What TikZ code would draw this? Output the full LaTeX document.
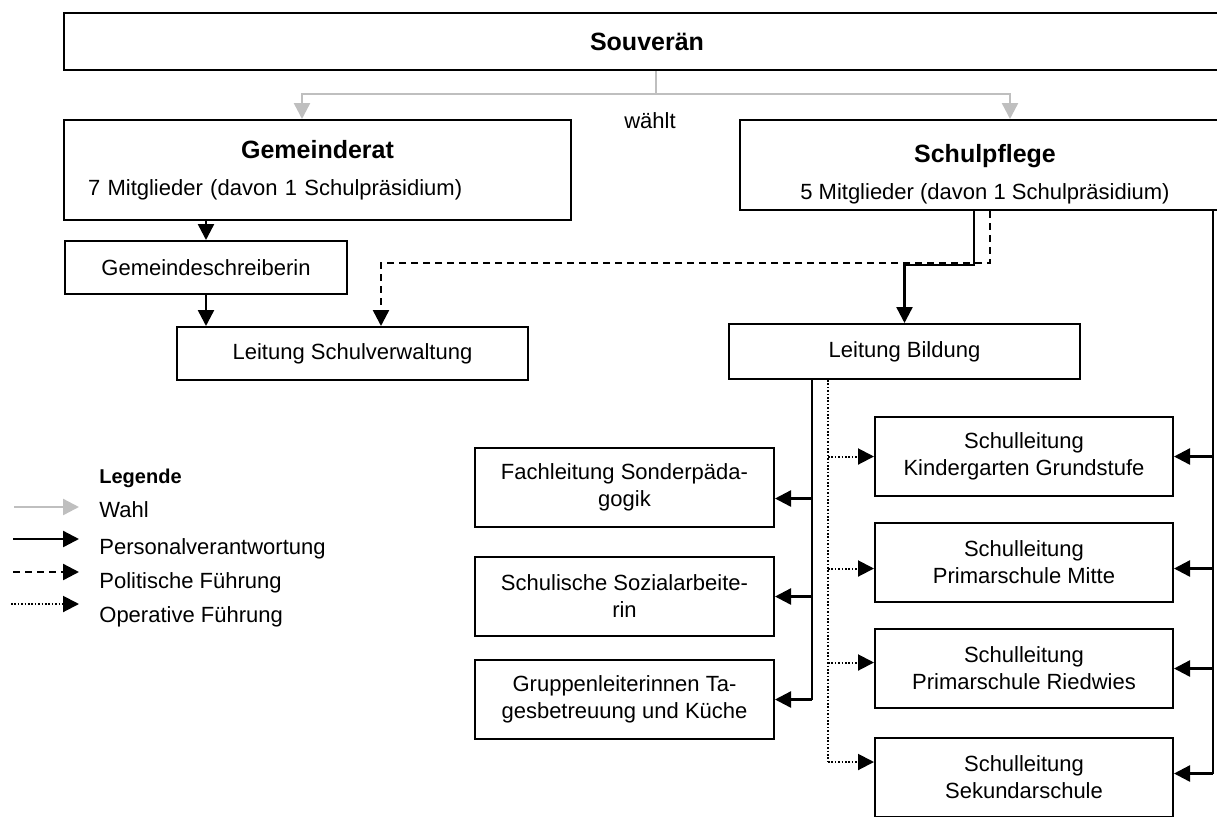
\documentclass[tikz,border=0pt]{standalone}
\usepackage{fontspec}
\setmainfont{Liberation Sans}
\usepackage{tikz}
\usetikzlibrary{positioning, arrows.meta, calc}
\definecolor{wahlgrey}{HTML}{BFBFBF}
\newcommand{\orgtitle}{\fontsize{12.5}{15}\selectfont\bfseries}
\newcommand{\orgtext}{\fontsize{11}{13.5}\selectfont}

\begin{document}
\begin{tikzpicture}[
    x=0.5pt, y=-0.5pt,
    box/.style={draw, line width=1pt, anchor=north west, minimum width=#1, align=center, inner sep=2pt, font=\orgtext},
    arr/.style={-{Triangle[length=8pt, width=8pt]}, line width=1.2pt},
    plain/.style={line width=1.2pt},
    wahl/.style={arr, color=wahlgrey},
    polit/.style={arr, dash pattern=on 3.5pt off 2.5pt},
    oper/.style={arr, line width=1pt, dash pattern=on 0.8pt off 0.9pt},
    legtxt/.style={anchor=base west, inner sep=0pt, font=\orgtext},
]
\useasboundingbox (0,0) rectangle (1217,816);
\clip (0,0) rectangle (1217,816);

% Gremien
\node[box=583pt, minimum height=28.5pt, font=\orgtitle] (souv) at (63,12) {Souverän};
\node[box=253.5pt, minimum height=50pt, text width=229.5pt, inner xsep=12pt, align=left] (gr) at (63,119) {\makebox[\linewidth]{\orgtitle Gemeinderat}\\[5pt]7 Mitglieder (davon 1 Schulpräsidium)};
\node[box=245pt, minimum height=45pt] (sp) at (739,119) {{\orgtitle\rule{0pt}{18pt}Schulpflege}\\[5pt]5 Mitglieder (davon 1 Schulpräsidium)};
\node[font=\orgtext] (waehlt) at (650,121) {wählt};

% Verwaltung und Leitung
\node[box=141pt, minimum height=26.5pt] (gs) at (64,240) {Gemeindeschreiberin};
\node[box=175.5pt, minimum height=26.5pt] (lsv) at (176,326) {Leitung Schulverwaltung};
\node[box=175.5pt, minimum height=27.5pt] (lb) at (728,323) {Leitung Bildung};

\node[box=149.5pt, minimum height=39.5pt] (fs) at (474,447) {Fachleitung Sonderpäda-\\gogik};
\node[box=149.5pt, minimum height=39.5pt, below=14pt of fs] (ss) {Schulische Sozialarbeite-\\rin};
\node[box=149.5pt, minimum height=39.5pt, below=11pt of ss] (gl) {Gruppenleiterinnen Ta-\\gesbetreuung und Küche};

\node[box=149pt, minimum height=39.5pt] (kg) at (874,416) {Schulleitung\\Kindergarten Grundstufe};
\node[box=149pt, minimum height=39.5pt, below=12.5pt of kg] (pm) {Schulleitung\\Primarschule Mitte};
\node[box=149pt, minimum height=39.5pt, below=12.5pt of pm] (pr) {Schulleitung\\Primarschule Riedwies};
\node[box=149pt, minimum height=39.5pt, below=14pt of pr] (sk) {Schulleitung\\Sekundarschule};

% Wahl
\coordinate (wmid) at (656,94);
\coordinate (wl) at (302,94);
\coordinate (wr) at (1010,94);
\draw[plain, wahlgrey] (souv.south -| wmid) -- (wmid);
\draw[wahl] (wmid) -- (wl) -- (gr.north -| wl);
\draw[wahl] (wmid) -- (wr) -- (sp.north -| wr);

% Personal / Politik links
\draw[arr] (gr.south -| gs.north) -- (gs.north);
\draw[arr] (gs.south) -- (gs.south |- lsv.north);
\coordinate (pd) at (990,263);
\coordinate (pdl) at (381,263);
\draw[polit] (sp.south -| pd) -- (pd) -- (pdl) -- (lsv.north -| pdl);
\coordinate (pk) at (974,265);
\draw[arr] (sp.south -| pk) -- (pk) -| (lb.north);

% Leitung Bildung -> Fachstellen
\coordinate (lbv) at (812,378);
\coordinate (fsa) at ([yshift=-5.5pt]fs.east);
\draw[plain] (lb.south -| lbv) -- (lbv |- gl.east);
\draw[arr] (lbv |- fsa) -- (fsa);
\draw[arr] (lbv |- ss.east) -- (ss.east);
\draw[arr] (lbv |- gl.east) -- (gl.east);

% operative Fuehrung Schulen
\coordinate (lbd) at (828,378);
\coordinate (pml) at ([yshift=-3pt]pm.west);
\coordinate (prl) at ([yshift=3pt]pr.west);
\coordinate (skl) at ([yshift=7.75pt]sk.west);
\draw[line width=1pt, dash pattern=on 0.8pt off 0.9pt] (lb.south -| lbd) -- (lbd |- skl);
\draw[oper] (lbd |- kg.west) -- (kg.west);
\draw[oper] (lbd |- pml) -- (pml);
\draw[oper] (lbd |- prl) -- (prl);
\draw[oper] (lbd |- skl) -- (skl);

% Schulpflege -> Schulleitungen
\coordinate (rv) at (1213,209);
\coordinate (pmr) at ([yshift=-3pt]pm.east);
\coordinate (skr) at ([yshift=2pt]sk.east);
\draw[plain] (sp.south -| rv) -- (rv |- skr);
\draw[arr] (rv |- kg.east) -- (kg.east);
\draw[arr] (rv |- pmr) -- (pmr);
\draw[arr] (rv |- pr.east) -- (pr.east);
\draw[arr] (rv |- skr) -- (skr);

% Legende
\node[legtxt, font=\fontsize{10}{12}\selectfont\bfseries] (leg) at (99,483) {Legende};
\node[legtxt] (lw) at (99,517) {Wahl};
\node[legtxt] (lp) at (99,554) {Personalverantwortung};
\node[legtxt] (lpf) at (99,588) {Politische Führung};
\node[legtxt] (lof) at (99,622) {Operative Führung};
\draw[wahl] ([shift={(-85,-10)}]lw.base west) -- ([shift={(-20,-10)}]lw.base west);
\draw[arr] ([shift={(-86,-15)}]lp.base west) -- ([shift={(-20,-15)}]lp.base west);
\draw[polit] ([shift={(-86,-16)}]lpf.base west) -- ([shift={(-20,-16)}]lpf.base west);
\draw[oper] ([shift={(-88,-18)}]lof.base west) -- ([shift={(-20,-18)}]lof.base west);
\end{tikzpicture}
\end{document}
